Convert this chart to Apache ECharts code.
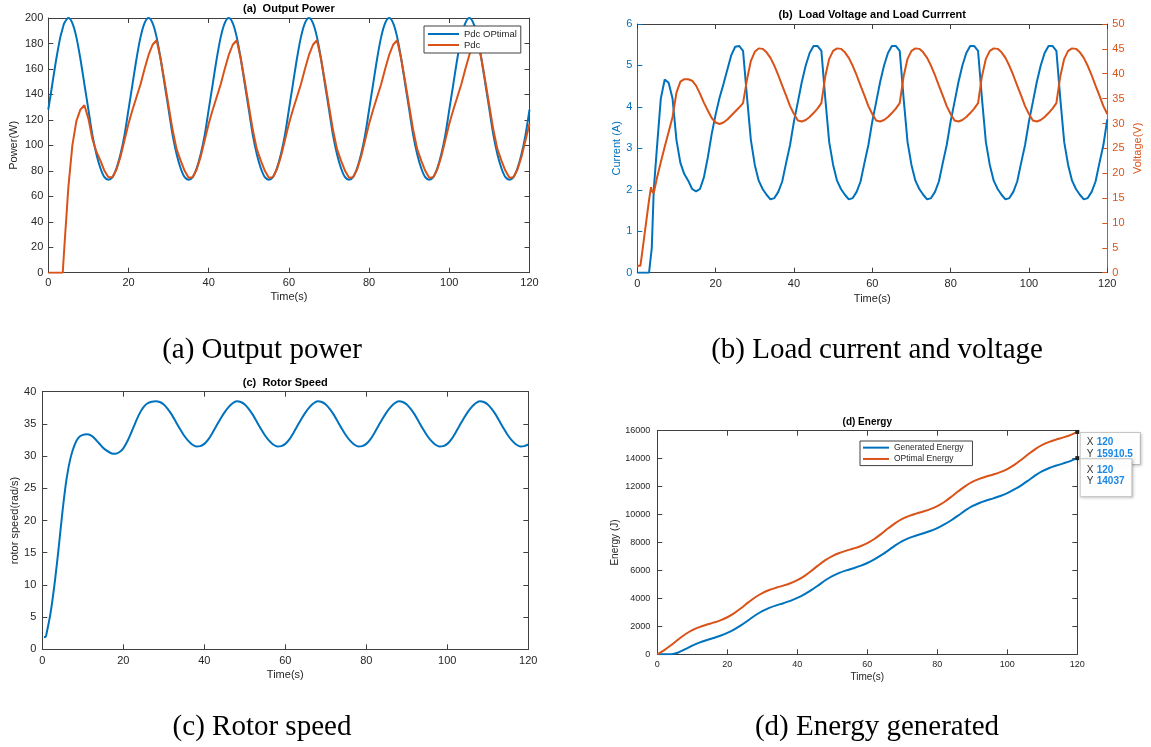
<!DOCTYPE html>
<html><head><meta charset="utf-8">
<script src="https://cdn.jsdelivr.net/npm/echarts@6/dist/echarts.min.js"></script>
<style>html,body{margin:0;padding:0;background:#fff;}#c{width:1151px;height:747px;}</style>
</head><body><div id="c"></div>
<script>
function range(a,b,s){const r=[];for(let v=a;v<=b+1e-9;v+=s)r.push(+v.toFixed(3));return r;}
function zip(t,v){return t.map((x,i)=>[x,v[i]]);}

// ---------- (a) Output Power ----------
const timeA = [0,1,2,3,3.6].concat(range(4,120,1));
const powerOptimal = [
 128,148,168,185,192,196,200,196,185,168,148,128,108,93,82,75,73,75,82,93,108,
 128,148,168,185,196,200,196,185,168,148,128,108,93,82,75,73,75,82,93,108,
 128,148,168,185,196,200,196,185,168,148,128,108,93,82,75,73,75,82,93,108,
 128,148,168,185,196,200,196,185,168,148,128,108,93,82,75,73,75,82,93,108,
 128,148,168,185,196,200,196,185,168,148,128,108,93,82,75,73,75,82,93,108,
 128,148,168,185,196,200,196,185,168,148,128,108,93,82,75,73,75,82,93,108,
 128];
const powerDc = [
 0,0,0,0,0,20,67,100,119,128,131.5,121,105,95,88,80,75,
 75,81,91,104,117,128,138,148,160,171,179,182.5,168,150,131,112,97,88,80,74.5,
 75,81,91,104,117,128,138,148,160,171,179,182.5,168,150,131,112,97,88,80,74.5,
 75,81,91,104,117,128,138,148,160,171,179,182.5,168,150,131,112,97,88,80,74.5,
 75,81,91,104,117,128,138,148,160,171,179,182.5,168,150,131,112,97,88,80,74.5,
 75,81,91,104,117,128,138,148,160,171,179,182.5,168,150,131,112,97,88,80,74.5,
 75,81,91,104,117];

// ---------- (b) Load voltage and current ----------
const timeB = [0,0.8,1,2,3,3.5,3.7,4.2].concat(range(5,120,1));
const loadVoltage = [
 1.4,1.4,2.6,8.6,14.6,17.2,16.5,16.0,
 19.0,22.2,25.3,28.3,31.3,36.2,38.4,38.9,38.9,38.6,37.6,36.0,34.2,32.6,31.1,30.2,29.9,30.2,30.8,31.6,32.4,33.2,34.1,38.8,42.6,44.4,45.1,
 45.0,44.3,43.2,41.6,39.7,37.6,35.6,33.5,31.9,30.6,30.4,30.7,31.3,32.1,33.0,34.1,39.5,43.0,44.6,45.1,
 45.0,44.3,43.2,41.6,39.7,37.6,35.6,33.5,31.9,30.6,30.4,30.7,31.3,32.1,33.0,34.1,39.5,43.0,44.6,45.1,
 45.0,44.3,43.2,41.6,39.7,37.6,35.6,33.5,31.9,30.6,30.4,30.7,31.3,32.1,33.0,34.1,39.5,43.0,44.6,45.1,
 45.0,44.3,43.2,41.6,39.7,37.6,35.6,33.5,31.9,30.6,30.4,30.7,31.3,32.1,33.0,34.1,39.5,43.0,44.6,45.1,
 45.0,44.3,43.2,41.6,39.7,37.6,35.6,33.5,31.9];
const loadCurrent = [
 0,0,0,0,0,0,0.6,2.0,
 3.0,4.2,4.66,4.58,4.2,3.2,2.65,2.38,2.22,2.02,1.96,2.02,2.3,2.78,3.35,3.82,4.22,4.55,4.9,5.25,5.45,5.47,5.35,4.25,3.2,2.6,2.22,2.02,1.88,
 1.77,1.8,1.95,2.2,2.65,3.08,3.65,4.12,4.6,5.0,5.3,5.47,5.47,5.35,4.2,3.15,2.6,2.22,2.02,1.88,
 1.77,1.8,1.95,2.2,2.65,3.08,3.65,4.12,4.6,5.0,5.3,5.47,5.47,5.35,4.2,3.15,2.6,2.22,2.02,1.88,
 1.77,1.8,1.95,2.2,2.65,3.08,3.65,4.12,4.6,5.0,5.3,5.47,5.47,5.35,4.2,3.15,2.6,2.22,2.02,1.88,
 1.77,1.8,1.95,2.2,2.65,3.08,3.65,4.12,4.6,5.0,5.3,5.47,5.47,5.35,4.2,3.15,2.6,2.22,2.02,1.88,
 1.77,1.8,1.95,2.2,2.65,3.08,3.7];

// ---------- (c) Rotor speed ----------
const timeC = [0.4,0.8].concat(range(1,120,1));
const rotorSpeed = [
 1.9,1.9,
 2.3,5.5,10,15.5,21.5,26.5,29.8,31.8,32.9,33.3,33.4,33.2,32.7,32.0,31.3,30.8,30.45,30.35,30.6,31.2,32.3,33.7,35.2,36.6,37.6,38.2,38.45,
 38.5,38.4,38.0,37.3,36.4,35.3,34.2,33.2,32.4,31.8,31.5,31.55,31.9,32.6,33.6,34.7,35.8,36.8,37.6,38.2,
 38.5,38.4,38.0,37.3,36.4,35.3,34.2,33.2,32.4,31.8,31.5,31.55,31.9,32.6,33.6,34.7,35.8,36.8,37.6,38.2,
 38.5,38.4,38.0,37.3,36.4,35.3,34.2,33.2,32.4,31.8,31.5,31.55,31.9,32.6,33.6,34.7,35.8,36.8,37.6,38.2,
 38.5,38.4,38.0,37.3,36.4,35.3,34.2,33.2,32.4,31.8,31.5,31.55,31.9,32.6,33.6,34.7,35.8,36.8,37.6,38.2,
 38.5,38.4,38.0,37.3,36.4,35.3,34.2,33.2,32.4,31.8,31.5,31.55,31.8];

// ---------- (d) Energy ----------
const timeD = range(0,120,2);
const energyGenerated = [0,0,4,131,364,620,833,1009,1161,1325,1533,1791,2091,2435,2795,3097,3325,3504,3657,3823,4033,
 4292,4592,4936,5296,5598,5826,6005,6158,6324,6534,6793,7093,7437,7797,8099,8327,8506,8659,8825,9035,
 9293,9593,9937,10297,10599,10827,11006,11159,11325,11535,11794,12094,12438,12798,13100,13328,13507,13660,13826,14037];
const energyOptimal = [0,297,666,1064,1432,1730,1949,2116,2265,2432,2651,2948,3317,3715,4083,4381,4600,4767,4916,5083,5302,
 5599,5968,6366,6734,7032,7251,7418,7567,7734,7953,8250,8619,9017,9385,9683,9902,10069,10218,10385,10604,
 10901,11270,11668,12036,12334,12553,12720,12869,13036,13255,13552,13921,14319,14687,14985,15204,15371,15520,15687,15910.5];

const BLUE = '#0072BD', ORANGE = '#D95319', AX = '#404040', TXT = '#262626';
const FONT = 'Liberation Sans', SERIF = 'Liberation Serif';
const plain = v => String(v);

function xPair(g, fs, margin, nameGap, nameFs){
  const base = {type:'value', gridIndex:g, min:0, max:120, interval:20,
    axisLine:{show:true,onZero:false,lineStyle:{color:AX,width:1}},
    axisTick:{show:true,inside:true,length:5,lineStyle:{color:AX,width:1}},
    splitLine:{show:false}};
  return [
    Object.assign({}, base, {position:'bottom',
      axisLabel:{show:true,margin:margin,fontSize:fs,color:TXT,fontFamily:FONT,formatter:plain},
      name:'Time(s)', nameLocation:'middle', nameGap:nameGap,
      nameTextStyle:{fontSize:nameFs,color:TXT,fontFamily:FONT}}),
    Object.assign({}, base, {position:'top', axisLabel:{show:false}})
  ];
}
function yAx(g, pos, min, max, interval, o){
  o = o || {};
  const col = o.color || AX;
  const a = {type:'value', gridIndex:g, position:pos, min:min, max:max, interval:interval,
    axisLine:{show:true,onZero:false,lineStyle:{color:col,width:1}},
    axisTick:{show:true,inside:true,length:5,lineStyle:{color:col,width:1}},
    splitLine:{show:false},
    axisLabel:{show:!!o.labels, margin:o.margin||5, fontSize:o.fs||11, color:o.labelColor||TXT, fontFamily:FONT, formatter:plain}};
  if (o.name){
    a.name = o.name; a.nameLocation='middle'; a.nameRotate=90; a.nameGap=o.nameGap;
    a.nameTextStyle = {fontSize:o.nameFs||11, color:o.labelColor||TXT, fontFamily:FONT};
  }
  return a;
}

const grids = [
  {left:48.3, top:18, width:481.2, height:254.7},
  {left:637.3, top:24, width:470, height:248.7},
  {left:42.3, top:391.7, width:486, height:257.6},
  {left:657.3, top:430.7, width:420, height:223.6}
];
const xAxes = [].concat(xPair(0,11,5,19,11), xPair(1,11,5.5,21,11), xPair(2,11,6.5,20,11), xPair(3,9,6,18,10));
const yAxes = [
  yAx(0,'left',0,200,20,{labels:true,name:'Power(W)',nameGap:29}),
  yAx(0,'right',0,200,20),
  yAx(1,'left',0,6,1,{labels:true,color:BLUE,labelColor:BLUE,name:'Current (A)',nameGap:15}),
  yAx(1,'right',0,50,5,{labels:true,color:ORANGE,labelColor:ORANGE,name:'Voltage(V)',nameGap:25}),
  yAx(2,'left',0,40,5,{labels:true,margin:6,name:'rotor speed(rad/s)',nameGap:21}),
  yAx(2,'right',0,40,5),
  yAx(3,'left',0,16000,2000,{labels:true,margin:7,fs:9,name:'Energy (J)',nameGap:37,nameFs:10}),
  yAx(3,'right',0,16000,2000)
];

function line(name, xi, yi, data, color, smooth){
  return {type:'line', name:name, xAxisIndex:xi, yAxisIndex:yi, data:data, showSymbol:false,
    smooth: smooth||false, lineStyle:{color:color,width:2}, itemStyle:{color:color}, animation:false, silent:true};
}

const tipLabel = function(y, pad){
  return {show:true, position:[5.4, 3], formatter:'{k|X} {v|120}\n{k|Y} {v|'+y+'}',
    backgroundColor:'rgba(255,255,255,0.97)', borderColor:'#c9c9c9', borderWidth:1,
    padding:pad, lineHeight:11.5, shadowBlur:3, shadowColor:'rgba(0,0,0,0.18)', shadowOffsetX:1, shadowOffsetY:1,
    rich:{k:{color:'#333',fontSize:10,fontFamily:FONT,lineHeight:11.5},
          v:{color:'#1a88e6',fontSize:10,fontWeight:'bold',fontFamily:FONT,lineHeight:11.5}}};
};
const lastOpt = energyOptimal[energyOptimal.length-1];
const lastGen = energyGenerated[energyGenerated.length-1];
const lastT = timeD[timeD.length-1];

const series = [
  line('Pdc OPtimal',0,0,zip(timeA,powerOptimal),BLUE,0.3),
  line('Pdc',0,0,zip(timeA,powerDc),ORANGE,false),
  line('Current',2,2,zip(timeB,loadCurrent),BLUE,false),
  line('Voltage',2,3,zip(timeB,loadVoltage),ORANGE,false),
  line('Rotor speed',4,4,zip(timeC,rotorSpeed),BLUE,0.3),
  line('Generated Energy',6,6,zip(timeD,energyGenerated),BLUE,0.3),
  Object.assign(line('OPtimal Energy',6,6,zip(timeD,energyOptimal),ORANGE,0.3), {
    markPoint:{symbol:'rect', symbolSize:4, itemStyle:{color:'#222'}, animation:false, silent:true,
      data:[
        {coord:[lastT,lastOpt], label:tipLabel(lastOpt,[4,7,4,6])},
        {coord:[lastT,lastGen], label:tipLabel(lastGen,[5,7,9,6])}
      ]}
  })
];

const legendBase = {orient:'vertical', selectedMode:false, icon:'rect', itemGap:0,
  backgroundColor:'#fff', borderColor:AX, borderWidth:1, borderRadius:0};
const legends = [
  Object.assign({}, legendBase, {data:['Pdc OPtimal','Pdc'], left:424, top:26, padding:[2.5,4,2.5,4],
    itemWidth:31, itemHeight:2, textStyle:{fontSize:9.5,color:TXT,fontFamily:FONT,lineHeight:11}}),
  Object.assign({}, legendBase, {data:['Generated Energy','OPtimal Energy'], left:860, top:441, padding:[1,9,1,3],
    itemWidth:26, itemHeight:2, textStyle:{fontSize:8.5,color:TXT,fontFamily:FONT,lineHeight:11.3}})
];

function txt(x,y,s,font){
  return {type:'text', silent:true, style:{x:x,y:y,text:s,textAlign:'center',textVerticalAlign:'middle',font:font,fill:'#000'}};
}
const graphics = [
  txt(288.9,9,'(a)  Output Power','bold 11px "Liberation Sans"'),
  txt(872.3,15,'(b)  Load Voltage and Load Currrent','bold 11px "Liberation Sans"'),
  txt(285.3,383.3,'(c)  Rotor Speed','bold 11px "Liberation Sans"'),
  txt(867.3,422.7,'(d) Energy','bold 10px "Liberation Sans"'),
  txt(262,350,'(a) Output power','29px "Liberation Serif"'),
  txt(877,350,'(b) Load current and voltage','29px "Liberation Serif"'),
  txt(262,727,'(c) Rotor speed','29px "Liberation Serif"'),
  txt(877,727,'(d) Energy generated','29px "Liberation Serif"')
];

const chart = echarts.init(document.getElementById('c'), null, {renderer:'canvas'});
chart.setOption({
  animation:false, backgroundColor:'#fff',
  grid:grids, xAxis:xAxes, yAxis:yAxes, series:series, legend:legends, graphic:graphics
});
</script></body></html>
